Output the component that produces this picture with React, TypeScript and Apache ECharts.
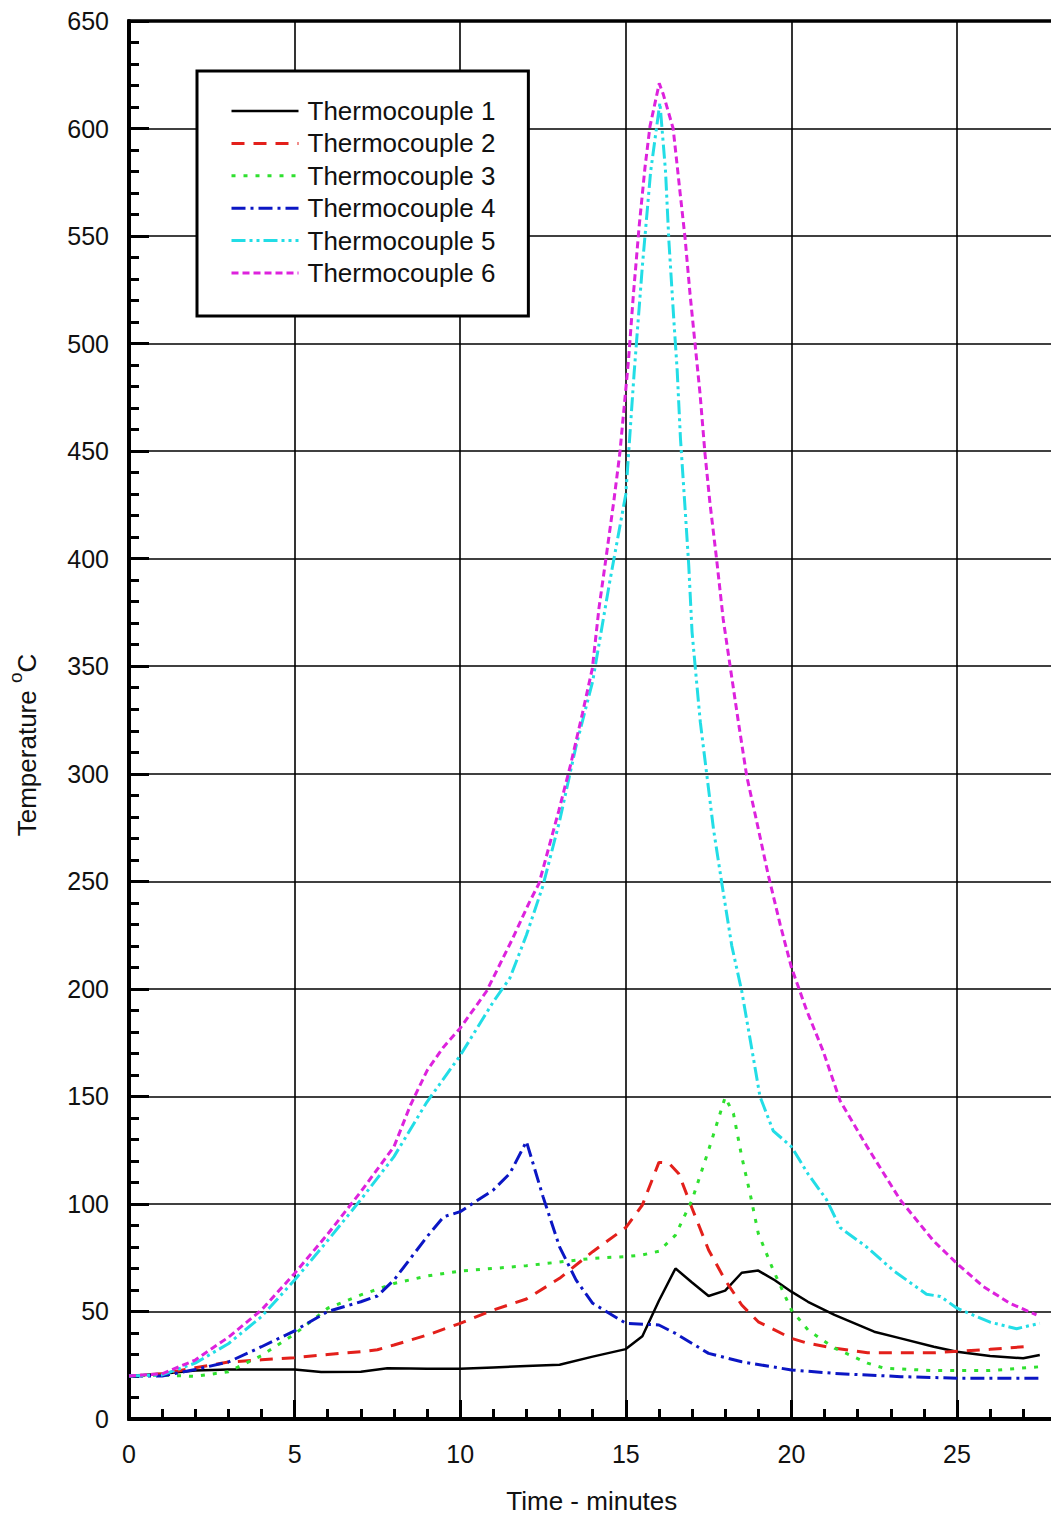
import React, { useEffect, useRef } from "react";
import * as echarts from "echarts";

// Time (minutes) and temperature (°C) readings for each thermocouple
const tc1Time = [0, 1, 2, 3, 4, 5, 5.8, 7, 7.8, 8.5, 9, 10, 11, 12, 13, 14, 15, 15.5, 16, 16.5, 17, 17.5, 18, 18.5, 19, 19.5, 20, 20.5, 21.3, 22.5, 23.3, 24.3, 25, 26, 27, 27.5];
const tc1Temp = [20, 21, 22.5, 23, 23, 23, 21.8, 22, 23.6, 23.5, 23.4, 23.4, 24, 24.6, 25.2, 29, 32.5, 38.5, 55, 70, 63.5, 57.2, 59.7, 68, 69, 64.5, 59.2, 54.5, 48.4, 40.6, 37.5, 33.6, 31.3, 29.3, 28.2, 29.8];

const tc2Time = [0, 1, 2, 3, 4, 5, 6, 7, 7.5, 8, 9, 10, 11, 12, 13, 14, 15, 15.5, 16, 16.3, 16.6, 17, 17.5, 18, 18.5, 19, 20, 20.5, 21.3, 22.3, 24.3, 26, 27.2];
const tc2Temp = [20, 21, 23.8, 26.5, 27.5, 28.5, 30, 31.3, 32.2, 34.4, 39, 44.5, 50.7, 55.8, 65.4, 77.8, 89, 99.5, 119.3, 119, 114, 98, 78.6, 64.6, 53, 45.2, 37.5, 35.2, 32.9, 30.8, 30.8, 32.4, 33.8];

const tc3Time = [0, 1, 2, 3, 4, 5, 6, 7, 8, 9, 10, 11, 12, 13, 14, 15, 15.5, 16, 16.5, 17, 17.5, 18, 18.25, 18.5, 18.75, 19, 19.45, 20, 20.5, 21.3, 22.3, 22.8, 24.3, 26, 27.5];
const tc3Temp = [20, 20.4, 19.8, 22, 29.5, 39.5, 51.5, 57.7, 63, 66.5, 68.8, 70, 71.3, 73, 74.7, 75.5, 76.3, 78, 85.5, 101.8, 125, 149.6, 142, 122, 105, 86.3, 69.3, 50.7, 41.4, 33, 26, 23.6, 22.5, 22.5, 24.3];

const tc4Time = [0, 1, 2, 3, 4, 5, 6, 7, 7.5, 8, 9, 9.5, 10, 11, 11.5, 12, 12.5, 13, 13.5, 14, 15, 16, 16.5, 17.5, 18.5, 20, 21.3, 23.3, 25, 27.5];
const tc4Temp = [20, 20, 23, 26.5, 33.6, 41, 50, 54.5, 57.2, 64.6, 84.8, 94, 96.4, 106.5, 114.2, 129, 103.4, 80, 64.6, 53.8, 44.5, 43.7, 39.8, 30.5, 26.6, 22.8, 21.2, 19.7, 19, 19];

const tc5Time = [0, 1, 2, 3, 4, 5, 6, 7, 8, 9, 10, 11, 11.5, 12, 12.5, 13, 13.5, 14, 14.5, 15, 15.25, 15.5, 15.75, 16.03, 16.2, 16.3, 16.45, 16.55, 16.65, 16.8, 16.9, 17, 17.1, 17.25, 17.45, 17.65, 17.9, 18.2, 18.5, 18.85, 19.05, 19.45, 20, 20.5, 21.06, 21.47, 22.27, 23.08, 24.08, 24.5, 25, 26, 26.8, 27.5];
const tc5Temp = [20, 20.5, 26, 35, 47.6, 64.6, 83, 102, 122, 147.5, 169, 194, 205, 225, 248, 278, 313, 343, 388, 430, 486, 536, 580, 612, 580, 548, 511, 488, 456, 421, 397, 366, 349, 324, 299, 274, 249, 220, 199, 168, 150, 134, 126.6, 114, 102, 89, 80, 69, 58, 57, 51.5, 45, 42, 44.5];

const tc6Time = [0, 1, 2, 3, 4, 5, 6, 7, 8, 8.5, 9, 9.5, 10, 10.8, 11.57, 12.08, 12.38, 12.98, 13.33, 13.69, 13.99, 14.19, 14.4, 14.64, 14.82, 15.08, 15.23, 15.4, 15.58, 15.73, 16.01, 16.13, 16.43, 16.64, 16.79, 16.94, 17.09, 17.24, 17.39, 17.54, 17.74, 17.94, 18.15, 18.4, 18.65, 18.95, 19.3, 19.66, 20, 20.46, 20.96, 21.47, 22.27, 23.28, 24.28, 24.99, 25.8, 26.6, 27.4];
const tc6Temp = [20, 21, 27.4, 38, 50.7, 67.7, 86, 105.7, 126.6, 146, 162, 173, 181.7, 199, 223, 240, 249, 283, 304, 328, 349, 377, 400, 427, 449, 492, 523, 554, 582, 601, 621, 616, 600, 570, 549, 523, 500, 477, 449, 426, 400, 372, 350, 324, 299, 278, 253, 230, 210, 190, 171, 148, 127, 102, 83, 72.4, 61.5, 53.8, 48.4];

const seriesNames = ["Thermocouple 1", "Thermocouple 2", "Thermocouple 3", "Thermocouple 4", "Thermocouple 5", "Thermocouple 6"];
const seriesTimes = [tc1Time, tc2Time, tc3Time, tc4Time, tc5Time, tc6Time];
const seriesTemps = [tc1Temp, tc2Temp, tc3Temp, tc4Temp, tc5Temp, tc6Temp];
const seriesColors = ["#000000", "#e3201b", "#2fe02f", "#0b16c4", "#22dde6", "#dd22dd"];
const seriesDashes: (string | number[])[] = ["solid", [13, 9], [4, 8], [14, 5, 3, 5], [14, 4, 3, 4, 3, 4], [7, 4]];
const seriesWidths = [2.5, 3, 3, 3, 3, 3];

const FONT = "'Liberation Sans', Arial, Helvetica, sans-serif";

export default function App() {
  const ref = useRef<HTMLDivElement>(null);

  useEffect(() => {
    if (!ref.current) return;
    const chart = echarts.init(ref.current, undefined, { renderer: "svg" });

    const series = seriesNames.map((name, i) => ({
      type: "line",
      name,
      data: seriesTimes[i].map((t, k) => [t, seriesTemps[i][k]]),
      symbol: "none",
      showSymbol: false,
      color: seriesColors[i],
      lineStyle: { color: seriesColors[i], width: seriesWidths[i], type: seriesDashes[i], cap: "butt" },
      z: 3,
    }));

    chart.setOption({
      animation: false,
      backgroundColor: "#ffffff",
      grid: {
        left: 129,
        top: 21,
        width: 993.6,
        height: 1398,
        outerBoundsMode: "none",
        containLabel: false,
        show: true,
        borderColor: "#000",
        borderWidth: 3.5,
        backgroundColor: "transparent",
      },
      legend: {
        orient: "vertical",
        left: 197,
        top: 71,
        padding: [27, 33, 30, 33],
        itemWidth: 67,
        itemHeight: 14,
        itemGap: 6.4,
        selectedMode: false,
        backgroundColor: "#ffffff",
        borderColor: "#000",
        borderWidth: 3,
        borderRadius: 0,
        textStyle: { fontSize: 26, fontFamily: FONT, color: "#111", lineHeight: 26, padding: [0, 0, 0, 4] },
        itemStyle: { opacity: 0 },
        lineStyle: { width: 3 },
        data: seriesNames.map((n, i) => ({ name: n, lineStyle: { width: seriesWidths[i] } })),
      },
      xAxis: {
        type: "value",
        min: 0,
        max: 30,
        interval: 5,
        name: "Time - minutes",
        nameLocation: "middle",
        nameGap: 69,
        nameTextStyle: { fontSize: 26, fontFamily: FONT, color: "#111", padding: [0, 68, 0, 0] },
        axisLine: { show: true, lineStyle: { color: "#000", width: 4 } },
        axisTick: { show: true, inside: true, length: 19, lineStyle: { color: "#000", width: 3 } },
        minorTick: { show: true, splitNumber: 5, length: 10, lineStyle: { color: "#000", width: 3 } },
        axisLabel: { fontSize: 25, fontFamily: FONT, color: "#111", margin: 22, showMaxLabel: false },
        splitLine: { show: true, lineStyle: { color: "#000", width: 1.6 } },
      },
      yAxis: {
        type: "value",
        min: 0,
        max: 650,
        interval: 50,
        name: "{base|Temperature }{sup|o}{base|C}",
        nameLocation: "middle",
        nameGap: 89,
        nameTextStyle: {
          fontSize: 26,
          fontFamily: FONT,
          color: "#111",
          padding: [0, 50, 0, 0],
          rich: {
            base: { fontSize: 26, fontFamily: FONT, color: "#111", verticalAlign: "bottom", lineHeight: 34 },
            sup: { fontSize: 19, fontFamily: FONT, color: "#111", verticalAlign: "top", lineHeight: 34 },
          },
        },
        axisLine: { show: true, lineStyle: { color: "#000", width: 4 } },
        axisTick: { show: true, inside: true, length: 20, lineStyle: { color: "#000", width: 3 } },
        minorTick: { show: true, splitNumber: 5, length: 10, lineStyle: { color: "#000", width: 3 } },
        axisLabel: { fontSize: 25, fontFamily: FONT, color: "#111", margin: 20 },
        splitLine: { show: true, lineStyle: { color: "#000", width: 1.6 } },
      },
      series,
    });

    return () => chart.dispose();
  }, []);

  return (
    <div
      ref={ref}
      style={{ position: "absolute", left: 0, top: 0, width: 1051, height: 1519, background: "#fff" }}
    />
  );
}
